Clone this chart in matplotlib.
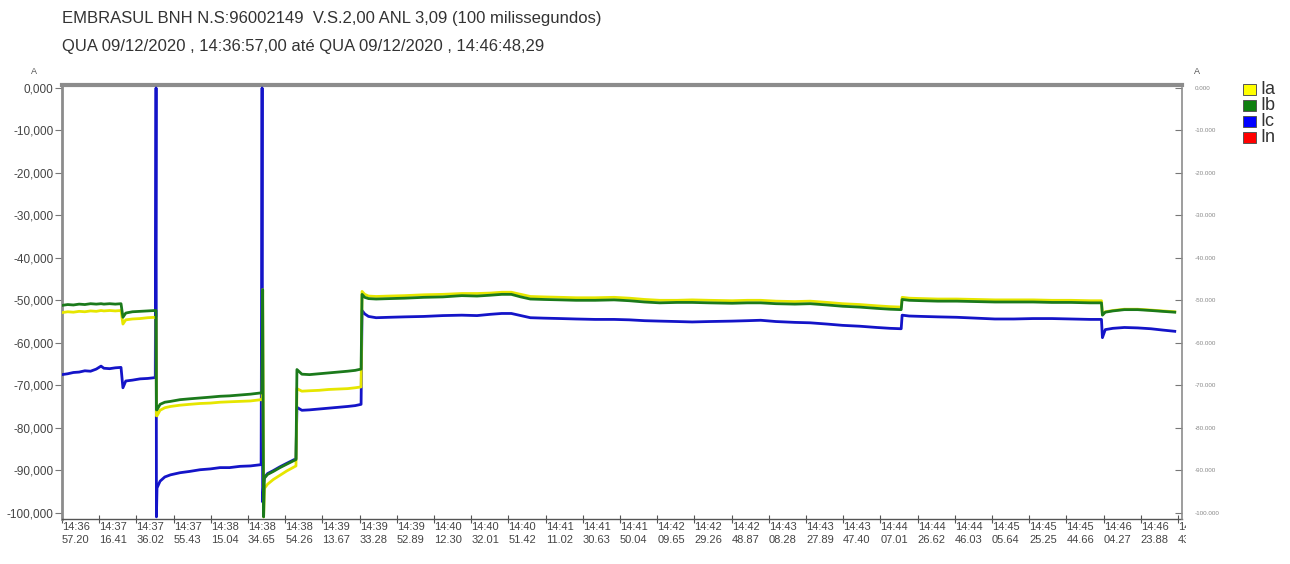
import matplotlib
matplotlib.use("Agg")
import matplotlib.pyplot as plt
from matplotlib.patches import Rectangle
from matplotlib.transforms import Bbox, TransformedBbox, IdentityTransform

plt.rcParams['font.family'] = ['Liberation Sans', 'DejaVu Sans']

# Seconds elapsed since 14:36:57.20 and phase currents (A)
t_s = [0.0, 3.0, 6.0, 9.0, 12.0, 15.0, 18.0, 20.5, 22.0, 25.0, 28.0, 31.0,
       32.0, 33.5, 37.0, 41.0, 45.0, 49.0,
       49.4, 49.6,
       49.9, 51.5, 54.0, 57.0, 62.0, 67.0, 72.5, 78.0, 83.0, 88.0, 93.5, 99.0, 104.6,
       105.1, 105.4, 105.9,
       106.3, 108.0, 111.0, 114.5, 118.0, 122.9,
       123.4, 126.0, 130.0, 135.0, 140.0, 145.0, 150.0, 154.0, 157.1,
       157.6, 159.0, 161.0, 165.0, 172.0, 180.0, 190.0, 200.0, 210.0, 218.0, 225.0,
       231.0, 236.0, 241.0, 246.0, 253.0, 262.0, 270.0, 280.0, 290.0, 298.0, 306.0,
       314.0, 323.0, 331.0, 340.0, 352.0, 360.0, 367.0, 375.0, 385.0, 393.0, 402.0,
       410.0, 419.0, 428.0, 435.0, 440.8,
       441.3, 445.0, 452.0, 460.0, 470.0, 480.0, 490.0, 500.0, 510.0, 520.0, 530.0,
       540.0, 546.0,
       546.5, 548.0, 552.0, 558.0, 565.0, 572.0, 578.0, 584.5]

ia = [-52.9, -52.7, -52.8, -52.6, -52.7, -52.5, -52.6, -52.4, -52.5, -52.4, -52.5, -52.4,
      -55.6, -54.6, -54.4, -54.3, -54.1, -54.0,
      -54.0, -77.2,
      -77.2, -75.9, -75.3, -75.0, -74.7, -74.5, -74.3, -74.2, -74.0, -73.9, -73.8, -73.7, -73.4,
      -73.4, -47.5, -101.0,
      -94.3, -93.3, -92.2, -91.2, -90.2, -89.0,
      -70.8, -71.4, -71.3, -71.2, -71.0, -70.9, -70.8, -70.6, -70.4,
      -47.9, -48.6, -49.0, -49.1, -49.0, -48.9, -48.7, -48.6, -48.4, -48.4, -48.3,
      -48.1, -48.1, -48.6, -49.1, -49.2, -49.3, -49.4, -49.4, -49.3, -49.5, -49.8,
      -50.0, -50.0, -49.9, -50.0, -50.1, -50.0, -50.0, -50.2, -50.3, -50.2, -50.5,
      -50.8, -51.0, -51.3, -51.5, -51.6,
      -49.3, -49.5, -49.6, -49.7, -49.7, -49.8, -49.9, -49.9, -49.9, -50.0, -50.0,
      -50.1, -50.1,
      -53.3, -52.7, -52.4, -52.1, -52.1, -52.3, -52.5, -52.7]

ib = [-51.2, -51.0, -51.1, -50.9, -51.0, -50.8, -50.9, -50.8, -50.9, -50.8, -50.9, -50.8,
      -54.0, -53.0, -52.7, -52.6, -52.5, -52.4,
      -52.4, -75.8,
      -75.8, -74.5, -74.0, -73.8, -73.4, -73.2, -73.0, -72.8, -72.6, -72.5, -72.3, -72.1, -71.8,
      -71.8, -47.5, -101.0,
      -91.9, -91.0, -90.3, -89.4, -88.6, -87.5,
      -66.3, -67.4, -67.5, -67.3, -67.1, -66.9, -66.7, -66.5, -66.2,
      -48.6, -49.3, -49.6, -49.7, -49.6, -49.5, -49.3, -49.2, -48.9, -49.0, -48.8,
      -48.6, -48.6, -49.2, -49.7, -49.8, -49.9, -50.0, -50.0, -49.9, -50.1, -50.4,
      -50.6, -50.5, -50.5, -50.6, -50.7, -50.6, -50.6, -50.8, -50.9, -50.8, -51.1,
      -51.4, -51.6, -51.9, -52.1, -52.2,
      -49.8, -50.0, -50.1, -50.2, -50.2, -50.3, -50.4, -50.4, -50.4, -50.5, -50.5,
      -50.6, -50.6,
      -53.5, -52.8, -52.5, -52.2, -52.2, -52.4, -52.6, -52.8]

ic = [-67.5, -67.3, -67.0, -66.9, -66.6, -66.7, -66.2, -65.5, -66.0, -66.1, -65.9, -65.8,
      -70.6, -69.0, -68.8, -68.5, -68.4, -68.2,
      0.0, -101.0,
      -94.2, -92.6, -91.6, -91.1, -90.6, -90.3, -89.9, -89.7, -89.4, -89.4, -89.1, -89.0, -88.7,
      0.0, -97.5, -93.0,
      -91.7, -90.8, -90.1, -89.2, -88.4, -87.3,
      -75.2, -75.9, -75.8, -75.6, -75.4, -75.2, -75.0, -74.8, -74.5,
      -52.4, -53.2, -53.8, -54.1, -54.0, -53.9, -53.8, -53.6, -53.5, -53.6, -53.3,
      -53.1, -53.1, -53.6, -54.1, -54.2, -54.3, -54.4, -54.5, -54.5, -54.6, -54.8,
      -54.9, -55.0, -55.1, -55.0, -54.9, -54.8, -54.7, -55.0, -55.2, -55.3, -55.6,
      -55.9, -56.1, -56.4, -56.6, -56.7,
      -53.5, -53.7, -53.8, -53.9, -54.0, -54.2, -54.4, -54.4, -54.3, -54.3, -54.4,
      -54.5, -54.5,
      -58.8, -56.9, -56.6, -56.4, -56.5, -56.7, -57.0, -57.3]

tick_step_s = 19.54
tick_labels = ["14:36\n57.20", "14:37\n16.41", "14:37\n36.02", "14:37\n55.43",
               "14:38\n15.04", "14:38\n34.65", "14:38\n54.26", "14:39\n13.67",
               "14:39\n33.28", "14:39\n52.89", "14:40\n12.30", "14:40\n32.01",
               "14:40\n51.42", "14:41\n11.02", "14:41\n30.63", "14:41\n50.04",
               "14:42\n09.65", "14:42\n29.26", "14:42\n48.87", "14:43\n08.28",
               "14:43\n27.89", "14:43\n47.40", "14:44\n07.01", "14:44\n26.62",
               "14:44\n46.03", "14:45\n05.64", "14:45\n25.25", "14:45\n44.66",
               "14:46\n04.27", "14:46\n23.88", "14:46\n43.49"]
y_ticks = [0, -10, -20, -30, -40, -50, -60, -70, -80, -90, -100]

series_names = ["Ia", "Ib", "Ic", "In"]
series_colors = ["#FFFF00", "#0F7F0F", "#0000FF", "#FF0000"]
line_colors = {"Ia": "#E6E600", "Ib": "#1B7A1B", "Ic": "#1414C8"}

W, H = 1290, 564
fig = plt.figure(figsize=(W / 100, H / 100), dpi=100)
fig.patch.set_facecolor("white")

x0, x1 = 62, 1182
y_top, y_bot = 85, 519
ax = fig.add_axes([x0 / W, 1 - y_bot / H, (x1 - x0) / W, (y_bot - y_top) / H])
xmax = (x1 - x0) / 37.2 * tick_step_s
ax.set_xlim(0, xmax)
ax.set_ylim(-101.5, 0.7)

# Ic underneath, then Ia, with Ib on top
ax.plot(t_s, ic, color=line_colors["Ic"], lw=2.0, zorder=3)
ax.plot(t_s, ia, color=line_colors["Ia"], lw=2.0, zorder=4)
ax.plot(t_s, ib, color=line_colors["Ib"], lw=2.0, zorder=5)

# frame
ax.spines["right"].set_visible(False)
ax.spines["top"].set_color("#8c8c8c")
ax.spines["top"].set_linewidth(3)
ax.spines["left"].set_color("#8c8c8c")
ax.spines["left"].set_linewidth(2)
ax.spines["bottom"].set_color("#555555")
ax.spines["bottom"].set_linewidth(1)

ax.set_yticks(y_ticks)
ax.set_yticklabels([f"{v:.3f}".replace(".", ",") for v in y_ticks])
ax.tick_params(axis="y", direction="out", length=5, width=0.8, color="#777777",
               labelsize=8.5, labelcolor="#444444", pad=1)

ax.set_xticks([k * tick_step_s for k in range(len(tick_labels))])
ax.set_xticklabels(tick_labels, ha="left", fontsize=8, color="#444444", linespacing=1.35)
ax.tick_params(axis="x", direction="inout", length=6, width=0.8, color="#555555", pad=-1)
clip = TransformedBbox(Bbox.from_extents(0, 0, 1186, H), IdentityTransform())
for lbl in ax.get_xticklabels():
    lbl.set_clip_on(True)
    lbl.set_clip_box(clip)

# right axis
ax2 = ax.twinx()
ax2.set_ylim(ax.get_ylim())
for side in ("top", "left", "bottom"):
    ax2.spines[side].set_visible(False)
ax2.spines["right"].set_color("#8c8c8c")
ax2.spines["right"].set_linewidth(1.2)
ax2.spines["right"].set_bounds(-101.5, 0)
ax2.set_yticks(y_ticks)
ax2.set_yticklabels([f"{v:.3f}" for v in y_ticks])
ax2.tick_params(axis="y", direction="in", length=5, width=0.8, color="#777777",
                labelsize=4.5, labelcolor="#888888", pad=9)

# unit labels
fig.text(34 / W, 1 - 71 / H, "A", fontsize=6.5, color="#555555", ha="center", va="center")
fig.text(1197 / W, 1 - 71 / H, "A", fontsize=6.5, color="#555555", ha="center", va="center")

# titles
fig.text(62 / W, 1 - 18 / H, "EMBRASUL BNH N.S:96002149  V.S.2,00 ANL 3,09 (100 milissegundos)",
         fontsize=12, color="#333333", ha="left", va="center")
fig.text(62 / W, 1 - 46 / H, "QUA 09/12/2020 , 14:36:57,00 até QUA 09/12/2020 , 14:46:48,29",
         fontsize=12, color="#333333", ha="left", va="center")

# legend
for i, (name, col) in enumerate(zip(series_names, series_colors)):
    yc = 89 + i * 16
    fig.patches.append(Rectangle((1243 / W, 1 - (yc + 6) / H), 13 / W, 11 / H,
                                 transform=fig.transFigure, facecolor=col,
                                 edgecolor="#555555", linewidth=0.7))
    fig.text(1260 / W, 1 - (yc + 1) / H, name, fontsize=13, color="#333333",
             ha="left", va="center")

fig.savefig("out.png", dpi=100)
